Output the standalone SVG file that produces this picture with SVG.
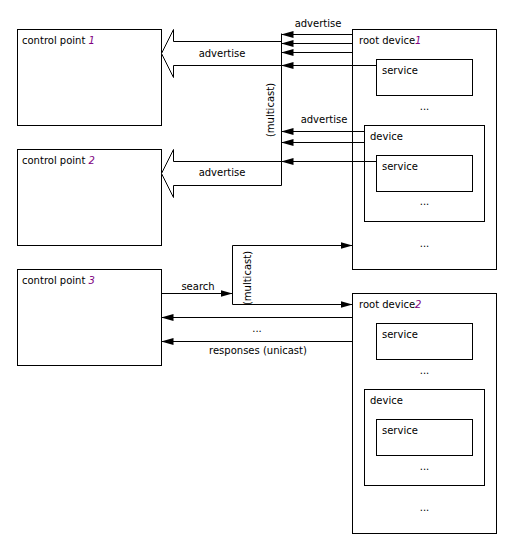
<svg xmlns="http://www.w3.org/2000/svg" width="516" height="553" viewBox="0 0 516 553">
<style>
text{font-family:"DejaVu Sans","Liberation Sans",sans-serif;font-size:10px;fill:#000}
.box{fill:#fff;stroke:#000;stroke-width:1}
.ln{fill:none;stroke:#000;stroke-width:1}
.hollow{fill:#fff;stroke:#000;stroke-width:1}
.num{fill:#800080;font-style:italic}
.mid{text-anchor:middle}
</style>
<defs>
<marker id="ah" markerUnits="userSpaceOnUse" markerWidth="12" markerHeight="8" refX="12" refY="4" orient="auto">
<path d="M0,0.5 L12,4 L0,7.5 z" fill="#000"/>
</marker>
</defs>
<rect x="0" y="0" width="516" height="553" fill="#fff"/>

<g id="cp1"><rect class="box" x="17.5" y="29.5" width="144" height="96"/><text x="22" y="44">control point <tspan class="num">1</tspan></text></g>
<g id="cp2"><rect class="box" x="17.5" y="149.5" width="144" height="96"/><text x="22" y="164">control point <tspan class="num">2</tspan></text></g>
<g id="cp3"><rect class="box" x="17.5" y="269.5" width="144" height="96"/><text x="22" y="284">control point <tspan class="num">3</tspan></text></g>

<g id="rd1">
<rect class="box" x="352.5" y="29.5" width="144" height="240"/>
<text x="359" y="44">root device<tspan class="num">1</tspan></text>
<g id="rd1-service"><rect class="box" x="376.5" y="59.5" width="96" height="36"/><text x="382" y="74">service</text></g>
<text class="mid" x="424.5" y="110">...</text>
<g id="rd1-device">
<rect class="box" x="364.5" y="125.5" width="120" height="96"/>
<text x="370" y="140">device</text>
<g id="rd1-device-service"><rect class="box" x="376.5" y="155.5" width="96" height="36"/><text x="382" y="170">service</text></g>
<text class="mid" x="424.5" y="205">...</text>
</g>
<text class="mid" x="424.5" y="247">...</text>
</g>

<g id="rd2">
<rect class="box" x="352.5" y="293.5" width="144" height="240"/>
<text x="359" y="308">root device<tspan class="num">2</tspan></text>
<g id="rd2-service"><rect class="box" x="376.5" y="323.5" width="96" height="36"/><text x="382" y="338">service</text></g>
<text class="mid" x="424.5" y="374">...</text>
<g id="rd2-device">
<rect class="box" x="364.5" y="389.5" width="120" height="96"/>
<text x="370" y="404">device</text>
<g id="rd2-device-service"><rect class="box" x="376.5" y="419.5" width="96" height="36"/><text x="382" y="434">service</text></g>
<text class="mid" x="424.5" y="470">...</text>
</g>
<text class="mid" x="424.5" y="511">...</text>
</g>

<g id="connectors">
<polyline class="hollow" points="281.5,41.5 173.5,41.5 173.5,29.5 161.5,53.5 173.5,77.5 173.5,65.5 281.5,65.5"/>
<polyline class="hollow" points="281.5,161.5 173.5,161.5 173.5,149.5 161.5,173.5 173.5,197.5 173.5,185.5 281.5,185.5"/>
<line class="ln" x1="281.5" y1="33.5" x2="281.5" y2="185.5"/>
<line class="ln" x1="352.5" y1="34.5" x2="281.5" y2="34.5" marker-end="url(#ah)"/>
<line class="ln" x1="352.5" y1="43.5" x2="281.5" y2="43.5" marker-end="url(#ah)"/>
<line class="ln" x1="352.5" y1="52.5" x2="281.5" y2="52.5" marker-end="url(#ah)"/>
<line class="ln" x1="376.5" y1="65.5" x2="281.5" y2="65.5" marker-end="url(#ah)"/>
<line class="ln" x1="364.5" y1="131.5" x2="281.5" y2="131.5" marker-end="url(#ah)"/>
<line class="ln" x1="364.5" y1="142.5" x2="281.5" y2="142.5" marker-end="url(#ah)"/>
<line class="ln" x1="376.5" y1="161.5" x2="281.5" y2="161.5" marker-end="url(#ah)"/>
<text class="mid" x="318" y="27">advertise</text>
<text class="mid" x="222" y="57">advertise</text>
<text class="mid" x="324" y="123">advertise</text>
<text class="mid" x="222" y="176">advertise</text>
<text class="mid" transform="translate(273.5,110) rotate(-90)">(multicast)</text>

<line class="ln" x1="161.5" y1="293.5" x2="232.5" y2="293.5" marker-end="url(#ah)"/>
<line class="ln" x1="232.5" y1="245.5" x2="232.5" y2="304.5"/>
<line class="ln" x1="232.5" y1="245.5" x2="352.5" y2="245.5" marker-end="url(#ah)"/>
<line class="ln" x1="232.5" y1="304.5" x2="352.5" y2="304.5" marker-end="url(#ah)"/>
<text class="mid" x="198" y="290">search</text>
<text class="mid" transform="translate(250.5,278) rotate(-90)">(multicast)</text>
<line class="ln" x1="352.5" y1="317.5" x2="161.5" y2="317.5" marker-end="url(#ah)"/>
<line class="ln" x1="352.5" y1="341.5" x2="161.5" y2="341.5" marker-end="url(#ah)"/>
<text class="mid" x="257" y="332">...</text>
<text class="mid" x="258" y="354">responses (unicast)</text>
</g>
</svg>
